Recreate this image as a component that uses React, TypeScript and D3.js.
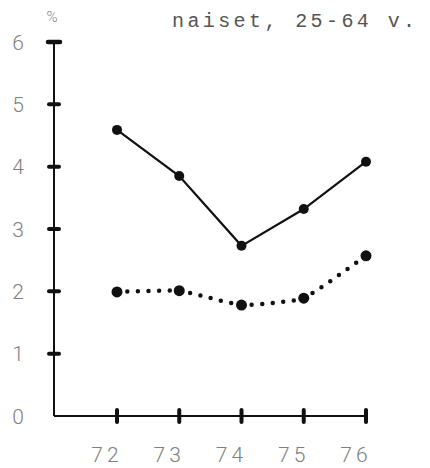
import React from "react";
import * as d3 from "d3";

const years = [72, 73, 74, 75, 76];
const solidSeries = [4.59, 3.85, 2.73, 3.32, 4.08];
const dottedSeries = [1.99, 2.01, 1.78, 1.89, 2.57];
const yTicks = [0, 1, 2, 3, 4, 5, 6];
const title = "naiset, 25-64 v.";
const unit = "%";

export default function App() {
  const x = d3.scaleLinear().domain([72, 76]).range([117, 366]);
  const y = d3.scaleLinear().domain([0, 6]).range([416, 42]);
  const x0 = 54;

  const solidLine = d3
    .line<number>()
    .x((_, i) => x(years[i]))
    .y((d) => y(d))(solidSeries) as string;

  const dottedLine = d3
    .line<number>()
    .x((_, i) => x(years[i]))
    .y((d) => y(d))
    .curve(d3.curveCardinal.tension(0.6))(dottedSeries) as string;

  const labelFont = "Roboto, 'DejaVu Sans', sans-serif";
  const monoFont = "'Liberation Mono', 'DejaVu Sans Mono', monospace";

  return (
    <svg
      width={430}
      height={468}
      style={{ position: "absolute", left: 0, top: 0, background: "#fff" }}
    >
      {/* axes */}
      <line x1={x0} x2={x0} y1={y(6)} y2={y(0)} stroke="#111" strokeWidth={2} />
      <line x1={x0} x2={x(76)} y1={y(0)} y2={y(0)} stroke="#111" strokeWidth={2} />
      {/* y ticks */}
      {yTicks.map((t) =>
        t === 0 ? null : (
          <line
            key={t}
            x1={x0 - (t === 6 ? 6 : 5)}
            x2={x0 + (t === 6 ? 6 : 5)}
            y1={y(t)}
            y2={y(t)}
            stroke="#111"
            strokeWidth={t === 6 ? 4.5 : 4}
            strokeLinecap="round"
          />
        )
      )}
      {yTicks.map((t) => (
        <text
          key={"yl" + t}
          x={18}
          y={y(t)}
          dy="0.36em"
          textAnchor="middle"
          fontFamily={labelFont}
          fontWeight={300}
          fontSize={21}
          fill="#808080"
        >
          {t}
        </text>
      ))}
      {/* x ticks */}
      {years.map((yr) => (
        <line
          key={"xt" + yr}
          x1={x(yr)}
          x2={x(yr)}
          y1={y(0) - 6}
          y2={y(0) + 6}
          stroke="#111"
          strokeWidth={4}
          strokeLinecap="round"
        />
      ))}
      {years.map((yr) => (
        <text
          key={"xl" + yr}
          x={x(yr) - 10}
          y={462}
          textAnchor="middle"
          fontFamily={labelFont}
          fontWeight={300}
          fontSize={21}
          letterSpacing={4}
          fill="#808080"
        >
          {yr}
        </text>
      ))}
      {/* unit and title */}
      <text
        x={52}
        y={22}
        textAnchor="middle"
        fontFamily={labelFont}
        fontWeight={300}
        fontSize={15}
        fill="#808080"
      >
        {unit}
      </text>
      <text
        x={172}
        y={27}
        fontFamily={monoFont}
        fontSize={20}
        letterSpacing={3.4}
        fill="#555"
      >
        {title}
      </text>
      {/* series */}
      <path d={solidLine} fill="none" stroke="#111" strokeWidth={2.2} />
      <path
        d={dottedLine}
        fill="none"
        stroke="#111"
        strokeWidth={4.5}
        strokeDasharray="0 10.5"
        strokeLinecap="round"
      />
      {solidSeries.map((v, i) => (
        <circle key={"s" + i} cx={x(years[i])} cy={y(v)} r={5} fill="#111" />
      ))}
      {dottedSeries.map((v, i) => (
        <circle key={"d" + i} cx={x(years[i])} cy={y(v)} r={5.5} fill="#111" />
      ))}
    </svg>
  );
}
